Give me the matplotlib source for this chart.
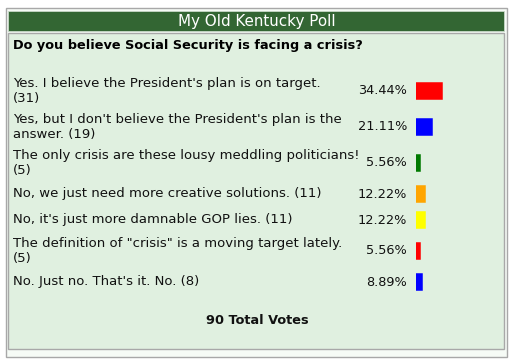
import matplotlib

matplotlib.use("Agg")

import matplotlib.pyplot as plt
from matplotlib.patches import Rectangle

# ---------------------------------------------------------------------
# Datos de la encuesta
# ---------------------------------------------------------------------
title = "My Old Kentucky Poll"
question = "Do you believe Social Security is facing a crisis?"
answers = [
    "Yes. I believe the President's plan is on target.\n(31)",
    "Yes, but I don't believe the President's plan is the\nanswer. (19)",
    "The only crisis are these lousy meddling politicians!\n(5)",
    "No, we just need more creative solutions. (11)",
    "No, it's just more damnable GOP lies. (11)",
    "The definition of \"crisis\" is a moving target lately.\n(5)",
    "No. Just no. That's it. No. (8)",
]
percents = [34.44, 21.11, 5.56, 12.22, 12.22, 5.56, 8.89]
bar_colors = ["#ff0000", "#0000ff", "#007a00", "#ffa500", "#ffff00", "#ff0000", "#0000ff"]
total_votes = 90

W, H = 517, 364
PANEL = "#e0f0e0"
HEADER = "#336633"
BORDER = "#a8a8a8"
FONT = "DejaVu Sans"

fig = plt.figure(figsize=(W / 100, H / 100), dpi=100)
fig.patch.set_facecolor("white")

# eje de fondo en coordenadas de pixel
ax = fig.add_axes([0, 0, 1, 1])
ax.set_xlim(0, W)
ax.set_ylim(H, 0)
ax.axis("off")

# marco exterior, cabecera y panel
ax.add_patch(Rectangle((6, 8), 501, 349, facecolor="#f6fbf6", edgecolor=BORDER, lw=1.0))
ax.add_patch(Rectangle((8, 11), 496, 20, facecolor=HEADER, edgecolor="#c8d8c8", lw=0.6))
ax.add_patch(Rectangle((8, 33), 496, 316, facecolor=PANEL, edgecolor=BORDER, lw=1.0))

ax.text(257, 21.5, title, color="white", fontsize=10.9, family=FONT,
        ha="center", va="center")
ax.text(13, 45, question, color="black", fontsize=9.3, family=FONT,
        weight="bold", ha="left", va="center")

# posiciones de filas segun numero de lineas
row_y = []
top = 73
for a in answers:
    h = 36 if "\n" in a else 26
    row_y.append(top + h / 2)
    top += h

for label, pct, y in zip(answers, percents, row_y):
    ax.text(13, y, label, fontsize=9.5, family=FONT, color="#111111",
            ha="left", va="center", linespacing=1.22)
    ax.text(407, y, f"{pct:.2f}%", fontsize=9.3, family=FONT, color="#111111",
            ha="right", va="center")

# barras: eje propio en unidades de porcentaje (0.76 px por %)
bax = fig.add_axes([415.5 / W, 0, 76 / W, 1])
bax.set_xlim(0, 100)
bax.set_ylim(H, 0)
bax.axis("off")
bax.barh(row_y, percents, height=15.5, color=bar_colors,
         edgecolor=bar_colors, linewidth=1.1)

ax.text(257, 321, f"{total_votes} Total Votes", fontsize=9.3, family=FONT,
        weight="bold", ha="center", va="center", color="#111111")

fig.savefig("out.png", dpi=100)
